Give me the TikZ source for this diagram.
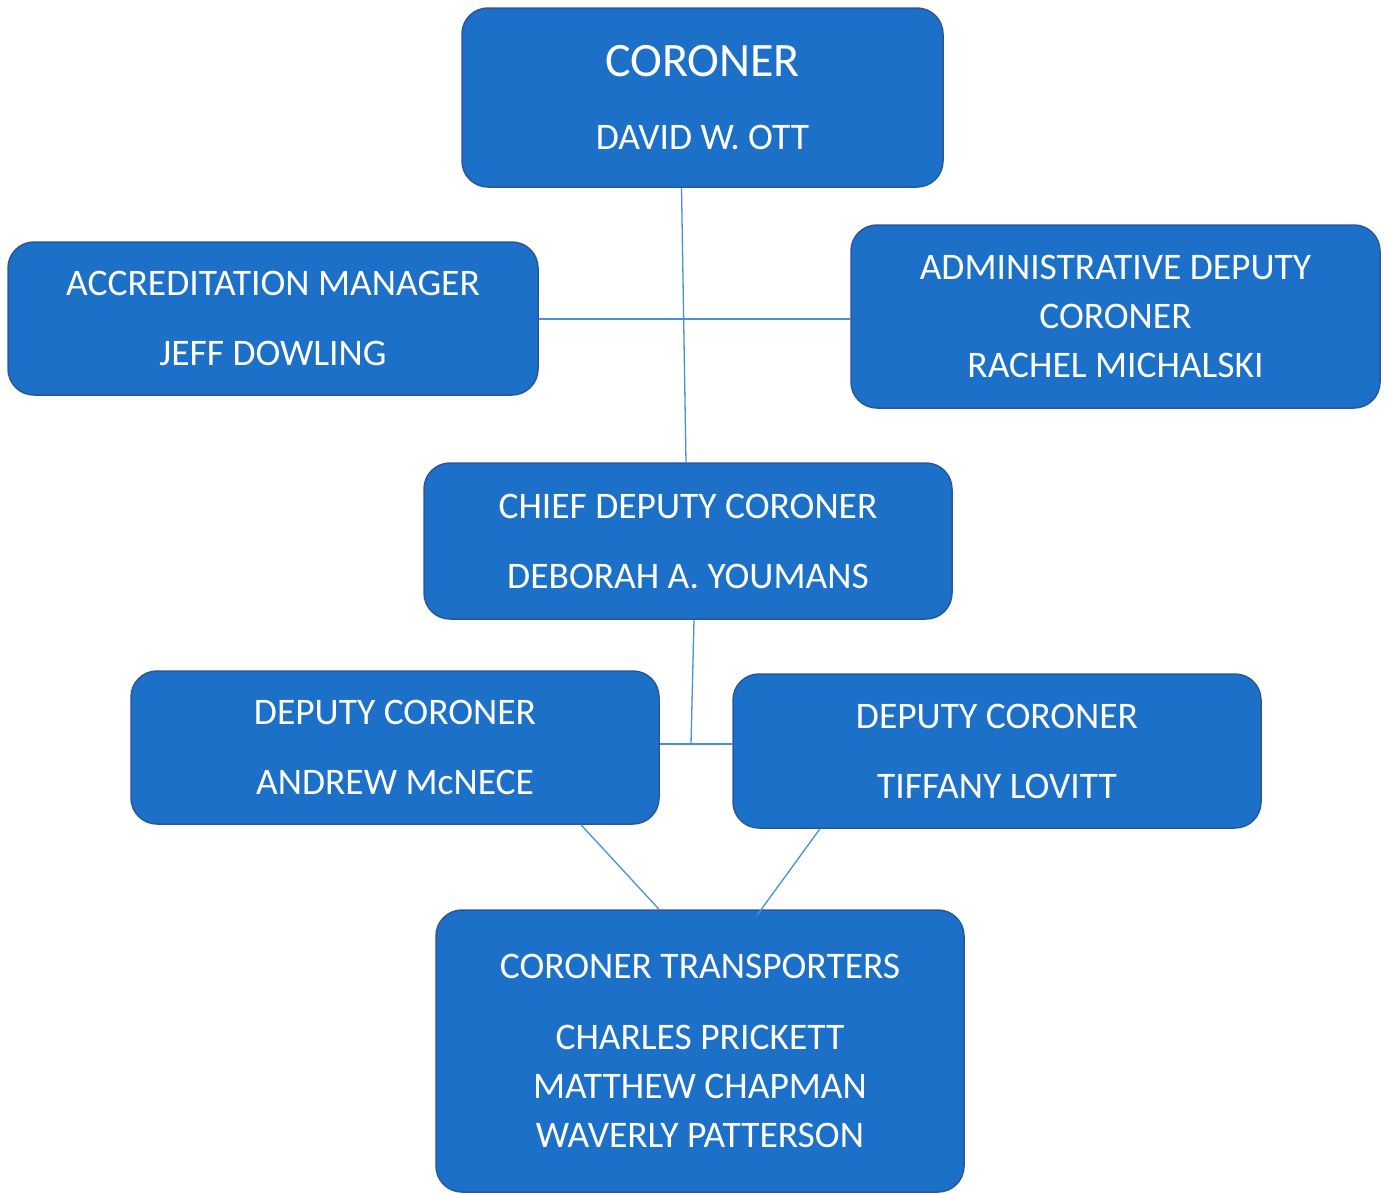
\documentclass[tikz,border=0pt]{standalone}
\usepackage{fontspec}
\setmainfont{Carlito}
\definecolor{boxblue}{RGB}{28,112,200}
\definecolor{boxedge}{RGB}{40,88,155}
\definecolor{linkblue}{RGB}{70,145,215}
\begin{document}
\begin{tikzpicture}[x=1pt,y=-1pt,
  box/.style={draw=boxedge,line width=1.5pt,fill=boxblue,rounded corners=26pt,
    text=white,align=center,inner sep=0pt,font=\fontsize{37.5}{49}\selectfont},
  link/.style={draw=linkblue,line width=1.3pt}]
\fill[white] (0,0) rectangle (1390,1194);
\useasboundingbox (0,0) rectangle (1390,1194);
\node[box,minimum width=481pt,minimum height=179pt] (coroner) at (702.5,97.5)
  {{\fontsize{48}{50}\selectfont CORONER}\\[24pt]DAVID W. OTT};
\node[box,minimum width=530pt,minimum height=153pt] (acc) at (273,318.5)
  {ACCREDITATION MANAGER\\[21pt]JEFF DOWLING};
\node[box,minimum width=529pt,minimum height=183pt] (admin) at (1115.5,316.5)
  {ADMINISTRATIVE DEPUTY\\CORONER\\RACHEL MICHALSKI};
\node[box,minimum width=528pt,minimum height=156pt] (chief) at (688,541)
  {CHIEF DEPUTY CORONER\\[21pt]DEBORAH A. YOUMANS};
\node[box,minimum width=528pt,minimum height=153pt] (depL) at (395,747.5)
  {DEPUTY CORONER\\[21pt]ANDREW McNECE};
\node[box,minimum width=528pt,minimum height=154pt] (depR) at (997,751)
  {DEPUTY CORONER\\[21pt]TIFFANY LOVITT};
\node[box,minimum width=528pt,minimum height=282pt] (trans) at (700,1051)
  {CORONER TRANSPORTERS\\[22pt]CHARLES PRICKETT\\MATTHEW CHAPMAN\\WAVERLY PATTERSON};
\coordinate (hub1) at (683.5,319);
\coordinate (hub2) at (691,744);
\draw[link] ([xshift=-21pt]coroner.south) -- ([xshift=-2pt]chief.north);
\draw[link] (acc.east |- hub1) -- (admin.west |- hub1);
\draw[link] ([xshift=6pt]chief.south) -- (hub2);
\draw[link] (depL.east |- hub2) -- (depR.west |- hub2);
\draw[link] ([xshift=186pt]depL.south) -- ([xshift=-41pt]trans.north);
\draw[link] ([xshift=-177pt]depR.south) -- ([xshift=57pt,yshift=-6pt]trans.north);
\end{tikzpicture}
\end{document}
